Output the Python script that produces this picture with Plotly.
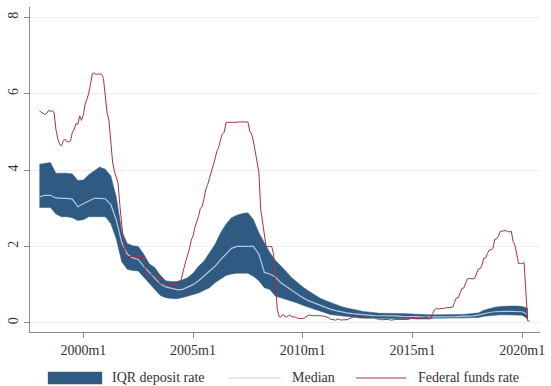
import plotly.graph_objects as go

# ---------------- data ----------------
band_start = 1998.0          # quarterly observations, 1998q1 ...
iqr_p75 = [4.15, 4.17, 4.20, 3.92, 3.92, 3.92, 3.90, 3.73, 3.74, 3.88, 3.98, 4.08,
           4.02, 3.85, 3.30, 2.40, 2.08, 2.02, 2.00, 1.80, 1.55, 1.45, 1.25, 1.10,
           1.08, 1.08, 1.12, 1.18, 1.30, 1.48, 1.62, 1.85, 2.05, 2.35, 2.58, 2.75,
           2.82, 2.86, 2.88, 2.70, 2.36, 2.10, 1.84, 1.64, 1.50, 1.34, 1.18, 1.05,
           0.94, 0.84, 0.74, 0.66, 0.59, 0.53, 0.48, 0.43, 0.39, 0.35, 0.33, 0.30,
           0.28, 0.27, 0.25, 0.25, 0.25, 0.25, 0.25, 0.24, 0.23, 0.22, 0.21, 0.21,
           0.21, 0.21, 0.21, 0.21, 0.22, 0.22, 0.23, 0.24, 0.26, 0.33, 0.38, 0.41,
           0.43, 0.44, 0.44, 0.44, 0.43, 0.38]
median_rate = [3.30, 3.34, 3.34, 3.27, 3.26, 3.26, 3.24, 3.04, 3.12, 3.20, 3.26, 3.26,
               3.25, 3.10, 2.70, 2.10, 1.80, 1.70, 1.66, 1.48, 1.32, 1.16, 1.02, 0.94,
               0.90, 0.87, 0.87, 0.93, 1.00, 1.10, 1.22, 1.36, 1.48, 1.65, 1.80, 1.95,
               2.00, 2.00, 2.00, 2.00, 1.80, 1.32, 1.28, 1.20, 1.05, 0.95, 0.84, 0.74,
               0.66, 0.58, 0.52, 0.46, 0.40, 0.36, 0.32, 0.28, 0.26, 0.24, 0.22, 0.21,
               0.20, 0.19, 0.19, 0.18, 0.18, 0.18, 0.17, 0.17, 0.17, 0.16, 0.15, 0.15,
               0.16, 0.16, 0.16, 0.16, 0.16, 0.17, 0.17, 0.18, 0.20, 0.24, 0.27, 0.29,
               0.30, 0.30, 0.30, 0.30, 0.29, 0.22]
iqr_p25 = [3.02, 3.02, 3.02, 2.85, 2.78, 2.78, 2.75, 2.68, 2.70, 2.78, 2.78, 2.78,
           2.78, 2.60, 2.20, 1.60, 1.40, 1.37, 1.36, 1.20, 1.05, 0.88, 0.72, 0.66,
           0.64, 0.63, 0.66, 0.70, 0.74, 0.78, 0.85, 0.92, 1.05, 1.15, 1.24, 1.28,
           1.30, 1.30, 1.30, 1.22, 1.10, 0.92, 0.87, 0.70, 0.66, 0.61, 0.56, 0.52,
           0.46, 0.41, 0.36, 0.30, 0.26, 0.22, 0.20, 0.18, 0.17, 0.15, 0.14, 0.12,
           0.12, 0.12, 0.12, 0.12, 0.12, 0.12, 0.12, 0.11, 0.11, 0.10, 0.10, 0.10,
           0.12, 0.12, 0.12, 0.12, 0.13, 0.13, 0.13, 0.14, 0.14, 0.17, 0.19, 0.20,
           0.21, 0.21, 0.21, 0.21, 0.20, 0.10]

fed_start = 1998.0           # monthly observations, 1998m1 ...
fed_funds = [
    5.56, 5.51, 5.49, 5.45, 5.49, 5.56, 5.54, 5.55, 5.51, 5.07, 4.83, 4.68,   # 1998
    4.63, 4.76, 4.81, 4.74, 4.74, 4.76, 4.99, 5.07, 5.22, 5.20, 5.42, 5.30,   # 1999
    5.45, 5.73, 5.85, 6.02, 6.27, 6.53, 6.54, 6.50, 6.52, 6.51, 6.51, 6.40,   # 2000
    5.98, 5.49, 5.31, 4.80, 4.21, 3.97, 3.77, 3.65, 3.07, 2.49, 2.09, 1.82,   # 2001
    1.73, 1.74, 1.73, 1.75, 1.75, 1.75, 1.73, 1.74, 1.75, 1.75, 1.34, 1.24,   # 2002
    1.24, 1.26, 1.25, 1.26, 1.26, 1.22, 1.01, 1.03, 1.01, 1.01, 1.00, 0.98,   # 2003
    1.00, 1.01, 1.00, 1.00, 1.00, 1.03, 1.26, 1.43, 1.61, 1.76, 1.93, 2.16,   # 2004
    2.28, 2.50, 2.63, 2.79, 3.00, 3.04, 3.26, 3.50, 3.62, 3.78, 4.00, 4.16,   # 2005
    4.29, 4.49, 4.59, 4.79, 4.94, 4.99, 5.24, 5.25, 5.25, 5.25, 5.25, 5.24,   # 2006
    5.25, 5.26, 5.26, 5.25, 5.25, 5.25, 5.26, 5.02, 4.94, 4.76, 4.49, 4.24,   # 2007
    3.94, 2.98, 2.61, 2.28, 1.98, 2.00, 2.01, 2.00, 1.81, 0.97, 0.39, 0.16,   # 2008
    0.15, 0.22, 0.18, 0.15, 0.18, 0.21, 0.16, 0.16, 0.15, 0.12, 0.12, 0.12,   # 2009
    0.11, 0.13, 0.16, 0.20, 0.20, 0.18, 0.18, 0.19, 0.19, 0.19, 0.19, 0.18,   # 2010
    0.17, 0.16, 0.14, 0.10, 0.09, 0.09, 0.07, 0.10, 0.08, 0.07, 0.08, 0.07,   # 2011
    0.08, 0.10, 0.13, 0.14, 0.16, 0.16, 0.16, 0.13, 0.14, 0.16, 0.16, 0.16,   # 2012
    0.14, 0.15, 0.14, 0.15, 0.11, 0.09, 0.09, 0.08, 0.08, 0.09, 0.08, 0.09,   # 2013
    0.07, 0.07, 0.08, 0.09, 0.09, 0.10, 0.09, 0.09, 0.09, 0.09, 0.09, 0.12,   # 2014
    0.11, 0.11, 0.11, 0.12, 0.12, 0.13, 0.13, 0.14, 0.14, 0.12, 0.12, 0.24,   # 2015
    0.34, 0.38, 0.36, 0.37, 0.37, 0.38, 0.39, 0.40, 0.40, 0.40, 0.41, 0.54,   # 2016
    0.65, 0.66, 0.79, 0.90, 0.91, 1.04, 1.15, 1.16, 1.15, 1.15, 1.16, 1.30,   # 2017
    1.41, 1.42, 1.51, 1.69, 1.70, 1.82, 1.91, 1.91, 1.95, 2.19, 2.20, 2.27,   # 2018
    2.40, 2.40, 2.41, 2.42, 2.39, 2.38, 2.40, 2.13, 2.04, 1.83, 1.55, 1.55,   # 2019
    1.55, 1.58, 0.65, 0.05, 0.05,                                             # 2020
]

x_tick_vals = [2000, 2005, 2010, 2015, 2020]
x_tick_text = ["2000m1", "2005m1", "2010m1", "2015m1", "2020m1"]
y_tick_vals = [0, 2, 4, 6, 8]
y_tick_text = ["0", "2", "4", "6", "8"]
legend_labels = ["IQR deposit rate", "Median", "Federal funds rate"]

# ---------------- styling ----------------
BAND = "#2f5b82"
MEDIAN = "#b4c9dc"
FED = "#a8323f"
FONT = "Liberation Serif"

band_t = [band_start + i / 4 for i in range(len(median_rate))]
fed_t = [fed_start + i / 12 for i in range(len(fed_funds))]

fig = go.Figure()
fig.add_trace(go.Scatter(x=band_t, y=iqr_p25, mode="lines",
                         line=dict(color=BAND, width=0.5), showlegend=False,
                         hoverinfo="skip"))
fig.add_trace(go.Scatter(x=band_t, y=iqr_p75, mode="lines", fill="tonexty",
                         fillcolor=BAND, line=dict(color=BAND, width=0.5),
                         name=legend_labels[0], showlegend=False))
fig.add_trace(go.Scatter(x=band_t, y=median_rate, mode="lines",
                         line=dict(color=MEDIAN, width=1.2),
                         name=legend_labels[1], showlegend=False))
fig.add_trace(go.Scatter(x=fed_t, y=fed_funds, mode="lines",
                         line=dict(color=FED, width=1.0),
                         name=legend_labels[2], showlegend=False))

# ---- legend drawn below the plot (paper coordinates) ----
ly = -0.1415
fig.add_shape(type="rect", xref="paper", yref="paper",
              x0=0.035, x1=0.1415, y0=ly - 0.019, y1=ly + 0.019,
              fillcolor=BAND, line=dict(width=0))
fig.add_shape(type="line", xref="paper", yref="paper",
              x0=0.3895, x1=0.492, y0=ly, y1=ly, line=dict(color="#c9d2da", width=1.2))
fig.add_shape(type="line", xref="paper", yref="paper",
              x0=0.6395, x1=0.738, y0=ly, y1=ly, line=dict(color=FED, width=1.0))
for xpos, txt in zip([0.157, 0.5097, 0.756], legend_labels):
    fig.add_annotation(x=xpos, y=ly, xref="paper", yref="paper", text=txt,
                       showarrow=False, xanchor="left", yanchor="middle",
                       font=dict(family=FONT, size=14, color="#333333"))

fig.update_layout(
    width=551, height=386,
    margin=dict(l=29, r=6, t=7, b=54),
    paper_bgcolor="white", plot_bgcolor="white",
    font=dict(family=FONT, size=14, color="#333333"),
    showlegend=False,
)
fig.update_xaxes(range=[1997.57, 2020.81], tickvals=x_tick_vals, ticktext=x_tick_text,
                 showgrid=False, zeroline=False, showline=True, linecolor="#8a8a8a",
                 linewidth=1, ticks="outside", ticklen=5, tickcolor="#8a8a8a",
                 tickfont=dict(family=FONT, size=14, color="#333333"))
fig.update_yaxes(range=[-0.24, 8.27], tickvals=y_tick_vals, ticktext=y_tick_text,
                 showgrid=True, gridcolor="#eeeeee", gridwidth=1, zeroline=False,
                 showline=True, linecolor="#8a8a8a", linewidth=1, ticks="outside",
                 ticklen=5, tickcolor="#8a8a8a", tickangle=-90,
                 tickfont=dict(family=FONT, size=14, color="#333333"))

fig.write_html("out.html",
               config={"displayModeBar": False},
               post_script="document.body.style.margin='0';"
                           "document.body.style.overflow='hidden';")
